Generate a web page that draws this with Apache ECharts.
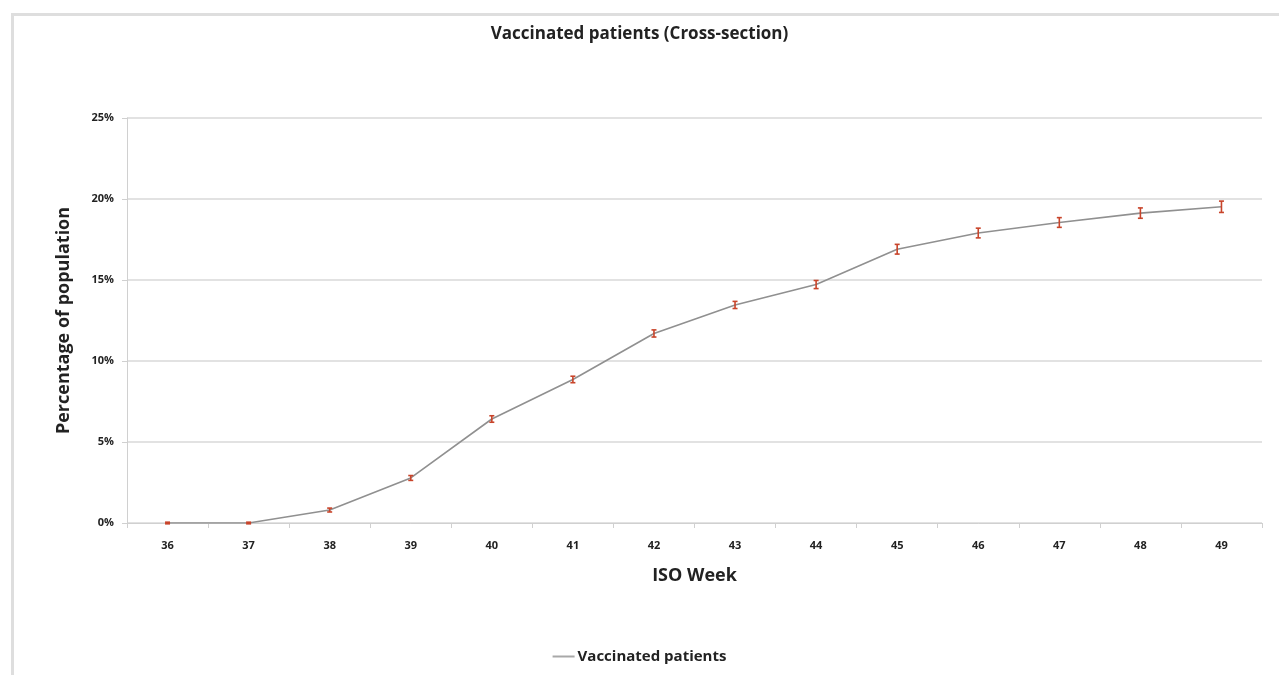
<!DOCTYPE html>
<html>
<head>
<meta charset="utf-8">
<script src="https://cdn.jsdelivr.net/npm/echarts@6/dist/echarts.min.js"></script>
<style>
html, body { margin: 0; padding: 0; background: #fff; }
#chart { width: 1279px; height: 675px; }
</style>
</head>
<body>
<div id="chart"></div>
<script>
var weeks = ['36', '37', '38', '39', '40', '41', '42', '43', '44', '45', '46', '47', '48', '49'];
var vaccinated = [0.0, 0.0, 0.8, 2.78, 6.42, 8.86, 11.7, 13.46, 14.72, 16.9, 17.9, 18.55, 19.13, 19.52];
var errorSize = [0.05, 0.05, 0.12, 0.15, 0.2, 0.2, 0.22, 0.22, 0.25, 0.3, 0.3, 0.3, 0.32, 0.35];
var yTicks = [0, 5, 10, 15, 20, 25];

var chart = echarts.init(document.getElementById('chart'));

var errData = [];
for (var i = 0; i < weeks.length; i++) {
	errData.push([i, vaccinated[i] - errorSize[i], vaccinated[i] + errorSize[i]]);
}

var option = {
	animation: false,
	textStyle: { fontFamily: 'Open Sans' },
	graphic: [
		{
			type: 'rect',
			left: 10, top: 12,
			shape: { width: 1300, height: 700 },
			style: { fill: 'none', stroke: '#dedede', lineWidth: 3 },
			silent: true
		}
	],
	title: {
		text: 'Vaccinated patients (Cross-section)',
		left: 'center',
		top: 21,
		textStyle: { fontSize: 17, fontWeight: 'bold', color: '#222', fontFamily: 'Open Sans' }
	},
	legend: {
		bottom: 6,
		left: 'center',
		icon: 'rect',
		itemWidth: 22,
		itemHeight: 2,
		itemGap: 4,
		data: ['Vaccinated patients'],
		itemStyle: { color: '#a8a8a8' },
		textStyle: { fontSize: 15, fontWeight: 'bold', color: '#222', padding: [0, 0, 0, -2] }
	},
	grid: { left: 127, right: 17, top: 118, bottom: 152 },
	xAxis: {
		type: 'category',
		data: weeks,
		boundaryGap: true,
		name: 'ISO Week',
		nameLocation: 'middle',
		nameGap: 44,
		nameTextStyle: { fontSize: 18, fontWeight: 'bold', color: '#222' },
		axisLine: { lineStyle: { color: '#d0d0d0', width: 1 } },
		axisTick: { show: true, length: 5, lineStyle: { color: '#d0d0d0' } },
		axisLabel: { margin: 17, fontSize: 11, fontWeight: 'bold', color: '#222' }
	},
	yAxis: {
		type: 'value',
		min: yTicks[0],
		max: yTicks[yTicks.length - 1],
		interval: 5,
		name: 'Percentage of population',
		nameLocation: 'middle',
		nameGap: 54,
		nameTextStyle: { fontSize: 18, fontWeight: 'bold', color: '#222' },
		axisLine: { show: true, lineStyle: { color: '#d0d0d0' } },
		axisTick: { show: true, length: 5, lineStyle: { color: '#d0d0d0' } },
		axisLabel: { margin: 13, fontSize: 11, fontWeight: 'bold', color: '#222', formatter: '{value}%' },
		splitLine: { lineStyle: { color: '#d9d9d9', width: 1.5 } }
	},
	series: [
		{
			name: 'Vaccinated patients',
			type: 'line',
			data: vaccinated,
			symbol: 'none',
			lineStyle: { color: '#909090', width: 1.6 },
			itemStyle: { color: '#a8a8a8' },
			z: 2
		},
		{
			name: 'error',
			type: 'custom',
			data: errData,
			z: 3,
			renderItem: function(params, api){
				var lo = api.coord([api.value(0), api.value(1)]);
				var hi = api.coord([api.value(0), api.value(2)]);
				var c = 2.5;
				var style = { stroke: '#c8442a', lineWidth: 1.6 };
				return {
					type: 'group',
					children: [
						{ type: 'line', shape: { x1: lo[0], y1: lo[1], x2: hi[0], y2: hi[1] }, style: style },
						{ type: 'line', shape: { x1: lo[0] - c, y1: lo[1], x2: lo[0] + c, y2: lo[1] }, style: style },
						{ type: 'line', shape: { x1: hi[0] - c, y1: hi[1], x2: hi[0] + c, y2: hi[1] }, style: style }
					]
				};
			}
		}
	]
};

chart.setOption(option);
</script>
</body>
</html>
